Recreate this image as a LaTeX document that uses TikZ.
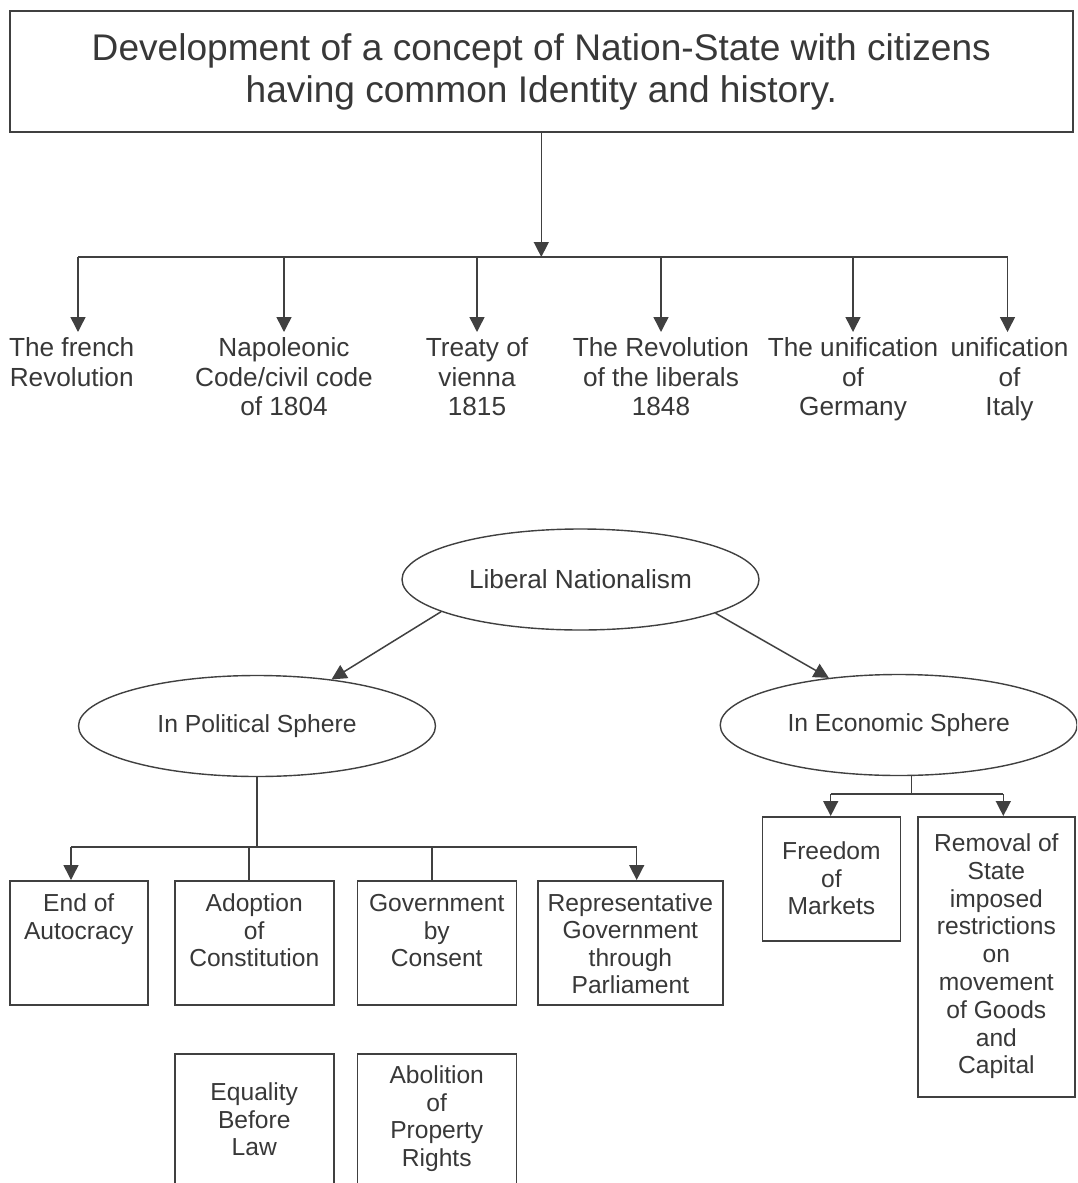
\documentclass[tikz,border=0pt]{standalone}
\usepackage{fontspec}
\setmainfont{Liberation Sans}
\usetikzlibrary{shapes.geometric,arrows.meta,calc}
\definecolor{tc}{HTML}{383838}
\definecolor{lc}{HTML}{404040}
\newcommand\bxtext[4]{\begin{minipage}[t][#2pt][t]{#1pt}\fontsize{24.6}{27.5}\selectfont\centering\vspace*{#3pt}\rule{0pt}{20pt}#4\end{minipage}}
\tikzset{
  every node/.style={text=tc},
  ln/.style={draw=lc, line width=1.5pt},
  arr/.style={ln, -{Triangle[length=15pt,width=15pt]}},
  titlebox/.style={draw=lc, line width=1.6pt, rectangle, minimum width=1063pt, minimum height=121pt, inner sep=0pt, align=center, font=\fontsize{37.1}{42}\selectfont},
  lab/.style={anchor=north, inner sep=0pt, align=center, font=\fontsize{26.2}{29.5}\selectfont},
  ell/.style={draw=lc, line width=1.4pt, ellipse, minimum width=357pt, minimum height=101pt, inner sep=0pt},
  bx/.style={draw=lc, line width=1.5pt, rectangle, inner sep=0pt, anchor=north west}
}
\begin{document}
\begin{tikzpicture}[x=1pt,y=-1pt]
\useasboundingbox[fill=white] (0,0) rectangle (1077,1183);
\clip (0,0) rectangle (1077,1183);
% title
\node[titlebox] (title) at (541.3,71.5) {Development of a concept of Nation-State with citizens\\having common Identity and history.};
\coordinate (tb) at (541.3,257);
\draw[arr] (title.south) -- (tb);
% bar and drops
\coordinate (d1) at (78,257);
\coordinate (d2) at (284,257);
\coordinate (d3) at (477,257);
\coordinate (d4) at (661,257);
\coordinate (d5) at (853,257);
\coordinate (d6) at (1007.5,257);
\draw[ln] (d1) -- (d6);
\node[lab] (l1) at (71.7,332) {\rule{0pt}{24.5pt}The french\\Revolution};
\node[lab] (l2) at (284,332) {\rule{0pt}{24.5pt}Napoleonic\\Code/civil code\\of 1804};
\node[lab] (l3) at (477,332) {\rule{0pt}{24.5pt}Treaty of\\vienna\\1815};
\node[lab] (l4) at (661,332) {\rule{0pt}{24.5pt}The Revolution\\of the liberals\\1848};
\node[lab] (l5) at (853,332) {\rule{0pt}{24.5pt}The unification\\of\\Germany};
\node[lab] (l6) at (1009.5,332) {\rule{0pt}{24.5pt}unification\\of\\Italy};
\foreach \i in {1,...,6}{\draw[arr] (d\i) -- (d\i |- l\i.north);}
% ellipses
\node[ell, font=\fontsize{26.2}{30}\selectfont] (LN) at (580.5,579.5) {Liberal Nationalism};
\node[ell, font=\fontsize{24.7}{30}\selectfont] (PS) at (257,726) {In Political Sphere};
\node[ell, font=\fontsize{24.7}{30}\selectfont] (ES) at (898.7,725) {In Economic Sphere};
\draw[arr] (LN.193.7) -- (PS.32.8);
\draw[arr] (LN.346.8) -- (ES.146.8);
% political fan
\node[bx] (b1) at (9,880) {\bxtext{138}{124}{11}{End of\\Autocracy}};
\node[bx] (b2) at (174,880) {\bxtext{159}{124}{11}{Adoption\\of\\Constitution}};
\node[bx] (b3) at (356.5,880) {\bxtext{159}{124}{11}{Government\\by\\Consent}};
\node[bx] (b4) at (537.3,880) {\bxtext{184.7}{124}{10.7}{Representative\\Government\\through\\Parliament}};
\node[bx] (b5) at (174,1053) {\bxtext{159}{170}{27}{Equality\\Before\\Law}};
\node[bx] (b6) at (356.5,1053) {\bxtext{159}{170}{10}{Abolition\\of\\Property\\Rights}};
\coordinate (pc) at (257,847);
\coordinate (p1) at (71,847);
\coordinate (p2) at (249,847);
\coordinate (p3) at (432,847);
\coordinate (p4) at (636.7,847);
\draw[ln] (PS.south) -- (pc);
\draw[ln] (p1) -- (p4);
\draw[arr] (p1) -- (p1 |- b1.north);
\draw[ln] (p2) -- (p2 |- b2.north);
\draw[ln] (p3) -- (p3 |- b3.north);
\draw[arr] (p4) -- (p4 |- b4.north);
% economic fan
\node[bx] (f1) at (761.7,816) {\bxtext{138}{124}{23}{Freedom\\of\\Markets}};
\node[bx] (f2) at (917,816) {\bxtext{157.3}{280}{14.7}{\fontsize{24.6}{27.8}\selectfont Removal of\\State\\imposed\\restrictions\\on\\movement\\of Goods\\and\\Capital}};
\coordinate (ec) at (911.7,794);
\coordinate (e1) at (830.7,794);
\coordinate (e2) at (1003.3,794);
\draw[ln] (ec |- ES.south) -- (ec);
\draw[ln] (e1) -- (e2);
\draw[arr] (e1) -- (e1 |- f1.north);
\draw[arr] (e2) -- (e2 |- f2.north);
\end{tikzpicture}
\end{document}
